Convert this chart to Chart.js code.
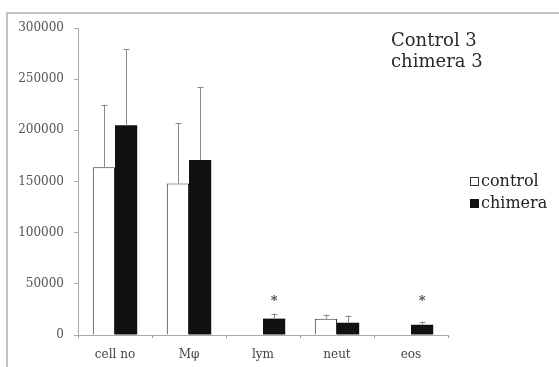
<!DOCTYPE html>
<html>
<head>
<meta charset="utf-8">
<script src="https://cdn.jsdelivr.net/npm/chart.js@4.4.0/dist/chart.umd.min.js"></script>
<style>
html,body{margin:0;padding:0;background:#fff;}
#wrap{width:559px;height:367px;position:relative;}
</style>
</head>
<body>
<div id="wrap"><canvas id="c" width="559" height="367"></canvas></div>
<script>
const categories = ['cell no', 'M\u03c6', 'lym', 'neut', 'eos'];
const controlValues = [164000, 148000, 0, 16000, 0];
const chimeraValues = [205000, 171000, 16000, 12000, 10000];
const controlSD = [61000, 59000, 0, 4000, 0];
const chimeraSD = [74000, 71000, 5000, 7000, 3000];
const chimeraStars = ['', '', '*', '', '*'];
const starValue = 36000;
const yTicks = [0, 50000, 100000, 150000, 200000, 250000, 300000];
const annotationLines = ['Control 3', 'chimera 3'];
const legendLabels = ['control', 'chimera'];

const SERIF = '"DejaVu Serif", "Liberation Serif", serif';

const framePlugin = {
  id: 'frame',
  beforeDraw(chart) {
    const ctx = chart.ctx;
    ctx.save();
    ctx.fillStyle = '#fff';
    ctx.fillRect(0, 0, chart.width, chart.height);
    ctx.strokeStyle = '#c4c4c4';
    ctx.lineWidth = 2;
    ctx.beginPath();
    ctx.moveTo(7, 367);
    ctx.lineTo(7, 13);
    ctx.lineTo(559, 13);
    ctx.stroke();
    ctx.restore();
  }
};

const errorPlugin = {
  id: 'errbars',
  afterDatasetsDraw(chart) {
    const ctx = chart.ctx;
    const y = chart.scales.y;
    const sds = [controlSD, chimeraSD];
    const vals = [controlValues, chimeraValues];
    ctx.save();
    chart.data.datasets.forEach((ds, di) => {
      const meta = chart.getDatasetMeta(di);
      meta.data.forEach((bar, i) => {
        const sd = sds[di][i];
        if (!sd) return;
        const top = y.getPixelForValue(vals[di][i] + sd);
        const base = y.getPixelForValue(vals[di][i]);
        const x = Math.round(bar.x) + 0.5;
        ctx.strokeStyle = '#8a8a8a';
        ctx.lineWidth = 1;
        ctx.beginPath();
        ctx.moveTo(x, base);
        ctx.lineTo(x, top);
        ctx.moveTo(x - 3, Math.round(top) + 0.5);
        ctx.lineTo(x + 3, Math.round(top) + 0.5);
        ctx.stroke();
      });
    });
    const meta = chart.getDatasetMeta(1);
    ctx.fillStyle = '#444';
    ctx.font = 'bold 13px ' + SERIF;
    ctx.textAlign = 'center';
    ctx.textBaseline = 'middle';
    meta.data.forEach((bar, i) => {
      if (chimeraStars[i]) ctx.fillText(chimeraStars[i], bar.x, y.getPixelForValue(starValue) + 3);
    });
    ctx.restore();
  }
};

const textPlugin = {
  id: 'texts',
  afterDraw(chart) {
    const ctx = chart.ctx;
    ctx.save();
    ctx.fillStyle = '#2a2a2a';
    ctx.font = '18px ' + SERIF;
    ctx.textAlign = 'left';
    ctx.textBaseline = 'middle';
    ctx.fillText(annotationLines[0], 391, 41);
    ctx.fillText(annotationLines[1], 391, 62);
    ctx.font = '16px ' + SERIF;
    ctx.fillStyle = '#222';
    ctx.fillText(legendLabels[0], 481, 182);
    ctx.fillText(legendLabels[1], 481, 204);
    ctx.lineWidth = 1;
    ctx.strokeStyle = '#333';
    ctx.fillStyle = '#fff';
    ctx.fillRect(470.5, 177.5, 8, 8);
    ctx.strokeRect(470.5, 177.5, 8, 8);
    ctx.fillStyle = '#111';
    ctx.fillRect(470, 199, 9, 9);
    ctx.restore();
  }
};

new Chart(document.getElementById('c'), {
  type: 'bar',
  data: {
    labels: categories,
    datasets: [
      {
        label: legendLabels[0],
        data: controlValues,
        backgroundColor: '#ffffff',
        borderColor: '#333333',
        borderWidth: 1,
        barPercentage: 1,
        categoryPercentage: 0.6
      },
      {
        label: legendLabels[1],
        data: chimeraValues,
        backgroundColor: '#111111',
        borderColor: '#111111',
        borderWidth: 0,
        barPercentage: 1,
        categoryPercentage: 0.6
      }
    ]
  },
  options: {
    responsive: false,
    animation: false,
    devicePixelRatio: 1,
    layout: { padding: { left: 10, right: 111, top: 28, bottom: 0 } },
    plugins: { legend: { display: false }, tooltip: { enabled: false } },
    scales: {
      x: {
        offset: true,
        grid: { offset: true, drawOnChartArea: false, drawTicks: true, tickLength: 3, color: '#999' },
        border: { display: true, color: '#aaa', width: 1 },
        ticks: { color: '#444', font: { family: SERIF, size: 12 }, padding: 10 },
        afterFit(s) { s.height = 32; }
      },
      y: {
        min: 0,
        max: 300000,
        afterBuildTicks(s) { s.ticks = yTicks.map(v => ({ value: v })); },
        grid: { drawOnChartArea: false, drawTicks: true, tickLength: 4, color: '#aaa' },
        border: { display: true, color: '#aaa', width: 1 },
        ticks: {
          color: '#555',
          font: { family: SERIF, size: 12 },
          padding: 10,
          callback: (v) => String(v)
        },
        afterFit(s) { s.width = 68; }
      }
    }
  },
  plugins: [framePlugin, errorPlugin, textPlugin]
});
</script>
</body>
</html>
